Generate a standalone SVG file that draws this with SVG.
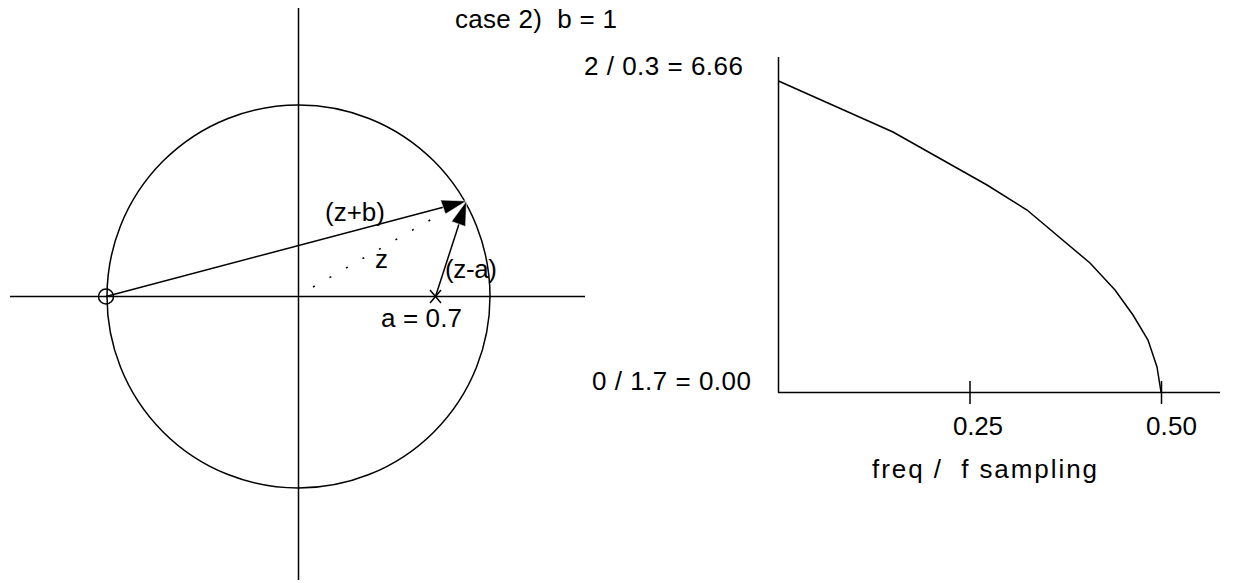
<svg xmlns="http://www.w3.org/2000/svg" width="1245" height="583" viewBox="0 0 1245 583">
<style>
.ln{stroke:#000;stroke-width:1.5;fill:none}
.t{font-family:"Liberation Sans",Arial,sans-serif;font-size:26px;fill:#000;white-space:pre}
</style>
<rect width="1245" height="583" fill="#fff"/>
<g id="zplane">
  <line class="ln" x1="298.5" y1="8" x2="298.5" y2="580"/>
  <line class="ln" x1="10" y1="296.5" x2="585" y2="296.5"/>
  <circle class="ln" cx="298.5" cy="296.5" r="191.5"/>
</g>
<g id="zero">
  <circle class="ln" cx="106" cy="296.5" r="7.5" stroke-width="2.2"/>
</g>
<g id="pole">
  <line class="ln" x1="430" y1="290" x2="441" y2="303"/>
  <line class="ln" x1="441" y1="290" x2="430" y2="303"/>
  <text class="t" x="381" y="327" textLength="81" lengthAdjust="spacing">a = 0.7</text>
</g>
<g id="connectors">
  <line class="ln" x1="106" y1="296.5" x2="446" y2="206.5"/>
  <polygon points="466.5,201 440.5,200 445.5,214" fill="#000" stroke="#fff" stroke-width="0.6"/>
  <line class="ln" x1="435.5" y1="296.5" x2="459" y2="224"/>
  <polygon points="466.5,201 451.5,221.5 465.5,226.5" fill="#000" stroke="#fff" stroke-width="0.6"/>
  <line class="ln" x1="313" y1="287" x2="446" y2="211" stroke-dasharray="2 17" stroke-width="1.8"/>
</g>
<g id="labels">
  <text class="t" x="325" y="221" textLength="60" lengthAdjust="spacing">(z+b)</text>
  <text class="t" x="375" y="268">z</text>
  <text class="t" x="445" y="278" textLength="52" lengthAdjust="spacing">(z-a)</text>
  <text class="t" x="455" y="28" textLength="162" lengthAdjust="spacing" xml:space="preserve">case 2)  b = 1</text>
</g>
<g id="graph">
  <line class="ln" x1="778.5" y1="57" x2="778.5" y2="392.5"/>
  <line class="ln" x1="778" y1="392.5" x2="1220" y2="392.5"/>
  <line class="ln" x1="970" y1="381" x2="970" y2="404"/>
  <line class="ln" x1="1161.5" y1="381" x2="1161.5" y2="404"/>
  <polyline class="ln" points="778.5,81 893,132 987,185 1027,210 1090,263 1115,290 1133,315 1148,340 1157,367 1161,392"/>
  <text class="t" x="584" y="75" textLength="159" lengthAdjust="spacing">2 / 0.3 = 6.66</text>
  <text class="t" x="592" y="390" textLength="159" lengthAdjust="spacing">0 / 1.7 = 0.00</text>
  <text class="t" x="953" y="435" textLength="50" lengthAdjust="spacing">0.25</text>
  <text class="t" x="1146" y="435" textLength="51" lengthAdjust="spacing">0.50</text>
  <text class="t" x="872" y="478" textLength="225" lengthAdjust="spacing" xml:space="preserve">freq /  f sampling</text>
</g>
</svg>
